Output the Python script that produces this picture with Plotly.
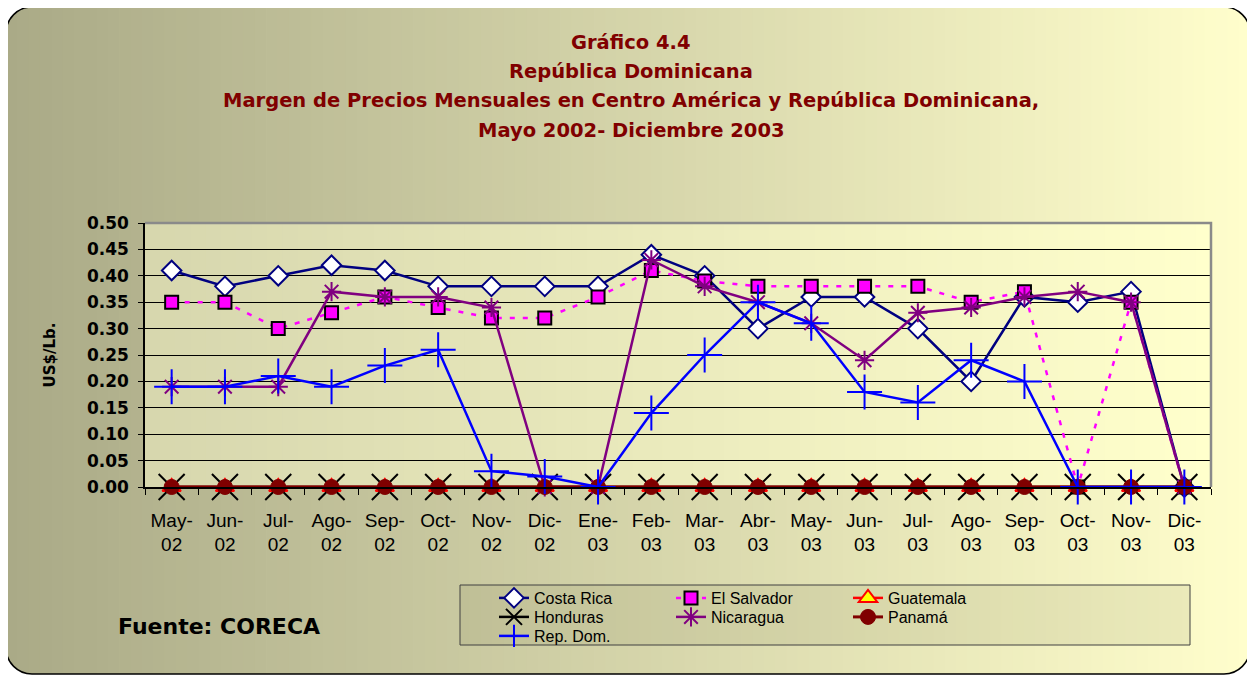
"""
Gráfico 4.4 - Margen de precios mensuales, Centro América y República Dominicana.
"""
import plotly.graph_objects as go

# --- data -------------------------------------------------------------
months = ["May-02", "Jun-02", "Jul-02", "Ago-02", "Sep-02", "Oct-02", "Nov-02",
          "Dic-02", "Ene-03", "Feb-03", "Mar-03", "Abr-03", "May-03", "Jun-03",
          "Jul-03", "Ago-03", "Sep-03", "Oct-03", "Nov-03", "Dic-03"]

costa_rica = [0.41, 0.38, 0.40, 0.42, 0.41, 0.38, 0.38, 0.38, 0.38, 0.44,
              0.40, 0.30, 0.36, 0.36, 0.30, 0.20, 0.36, 0.35, 0.37, 0.00]
el_salvador = [0.35, 0.35, 0.30, 0.33, 0.36, 0.34, 0.32, 0.32, 0.36, 0.41,
               0.39, 0.38, 0.38, 0.38, 0.38, 0.35, 0.37, 0.00, 0.35, 0.00]
guatemala = [0.00, 0.00, 0.00, 0.00, 0.00, 0.00, 0.00, 0.00, 0.00, 0.00,
             0.00, 0.00, 0.00, 0.00, 0.00, 0.00, 0.00, 0.00, 0.00, 0.00]
honduras = [0.00, 0.00, 0.00, 0.00, 0.00, 0.00, 0.00, 0.00, 0.00, 0.00,
            0.00, 0.00, 0.00, 0.00, 0.00, 0.00, 0.00, 0.00, 0.00, 0.00]
nicaragua = [0.19, 0.19, 0.19, 0.37, 0.36, 0.36, 0.34, 0.00, 0.00, 0.43,
             0.38, 0.35, 0.31, 0.24, 0.33, 0.34, 0.36, 0.37, 0.35, 0.00]
panama = [0.00, 0.00, 0.00, 0.00, 0.00, 0.00, 0.00, 0.00, 0.00, 0.00,
          0.00, 0.00, 0.00, 0.00, 0.00, 0.00, 0.00, 0.00, 0.00, 0.00]
rep_dom = [0.19, 0.19, 0.21, 0.19, 0.23, 0.26, 0.03, 0.02, 0.00, 0.14,
           0.25, 0.35, 0.31, 0.18, 0.16, 0.24, 0.20, 0.00, 0.00, 0.00]

tick_text = [m.replace("-", "-<br>") for m in months]

# --- page geometry ------------------------------------------------------
# positions below are page pixels; the page body adds an 8px offset
OFF = 8
W, H = 1255 - OFF, 677 - OFF
ML, MT = 145 - OFF, 223 - OFF
MR, MB = W - (1211 - OFF), H - (487 - OFF)
PW, PH = W - ML - MR, H - MT - MB


def px(x):
    return (x - OFF - ML) / PW


def py(y):
    return (H - MB - (y - OFF)) / PH


def mix(c0, c1, t):
    return "rgb(%d,%d,%d)" % tuple(round(a + (b - a) * t) for a, b in zip(c0, c1))


shapes = []

# paper gradient (olive on the left, pale yellow on the right)
bx0, bx1, by0, by1 = 6, 1250, 7, 674
n = 110
for i in range(n):
    xa = bx0 + (bx1 - bx0) * i / n
    xb = min(bx1, bx0 + (bx1 - bx0) * (i + 1) / n + 0.8)
    shapes.append(dict(type="rect", xref="paper", yref="paper", layer="below",
                       x0=px(xa), x1=px(xb), y0=py(by1), y1=py(by0),
                       fillcolor=mix((170, 170, 135), (255, 254, 204), i / (n - 1)),
                       line=dict(width=0)))

# white corner masks + rounded border
r, k = 26, 0.45
for cx, cy, sx, sy in [(bx0, by0, 1, 1), (bx1, by0, -1, 1),
                       (bx1, by1, -1, -1), (bx0, by1, 1, -1)]:
    path = "M %f,%f L %f,%f C %f,%f %f,%f %f,%f Z" % (
        px(cx), py(cy), px(cx + sx * r), py(cy),
        px(cx + sx * r * k), py(cy), px(cx), py(cy + sy * r * k),
        px(cx), py(cy + sy * r))
    shapes.append(dict(type="path", xref="paper", yref="paper", layer="below",
                       path=path, fillcolor="white", line=dict(width=0)))

border = ("M %f,%f L %f,%f C %f,%f %f,%f %f,%f L %f,%f C %f,%f %f,%f %f,%f "
          "L %f,%f C %f,%f %f,%f %f,%f L %f,%f C %f,%f %f,%f %f,%f Z") % (
    px(bx0 + r), py(by0), px(bx1 - r), py(by0),
    px(bx1 - r * k), py(by0), px(bx1), py(by0 + r * k), px(bx1), py(by0 + r),
    px(bx1), py(by1 - r),
    px(bx1), py(by1 - r * k), px(bx1 - r * k), py(by1), px(bx1 - r), py(by1),
    px(bx0 + r), py(by1),
    px(bx0 + r * k), py(by1), px(bx0), py(by1 - r * k), px(bx0), py(by1 - r),
    px(bx0), py(by0 + r),
    px(bx0), py(by0 + r * k), px(bx0 + r * k), py(by0), px(bx0 + r), py(by0))
shapes.append(dict(type="path", xref="paper", yref="paper", layer="below",
                   path=border, line=dict(color="black", width=1.5)))

# plot area gradient
m = 70
for i in range(m):
    shapes.append(dict(type="rect", xref="x domain", yref="y domain", layer="below",
                       x0=i / m, x1=min(1, (i + 1) / m + 0.001), y0=0, y1=1,
                       fillcolor=mix((215, 215, 174), (255, 255, 204), i / (m - 1)),
                       line=dict(width=0)))
# grey frame on top / right of plot area
shapes.append(dict(type="path", xref="paper", yref="paper", layer="above",
                   path="M 0,1 L 1,1 L 1,0", line=dict(color="#8a8a8a", width=2.5)))

# legend box
shapes.append(dict(type="rect", xref="paper", yref="paper", layer="below",
                   x0=px(460), x1=px(1190), y0=py(645), y1=py(585),
                   fillcolor="rgba(120,120,80,0.12)",
                   line=dict(color="#404040", width=1)))

# --- traces -----------------------------------------------------------
series = [
    ("Costa Rica", costa_rica, "legend", dict(color="#000080", width=2.5),
     dict(symbol="diamond", size=15, color="white", line=dict(color="#000080", width=2))),
    ("El Salvador", el_salvador, "legend", dict(color="#FF00FF", width=2.5, dash="5px,8px"),
     dict(symbol="square", size=13, color="#FF00FF", line=dict(color="black", width=2))),
    ("Guatemala", guatemala, "legend", dict(color="#FF0000", width=2.5),
     dict(symbol="triangle-up", size=16, color="#FFFF00", line=dict(color="#FF0000", width=2))),
    ("Honduras", honduras, "legend2", dict(color="black", width=2.5),
     dict(symbol="x-thin-open", size=26, color="black", line=dict(color="black", width=2))),
    ("Nicaragua", nicaragua, "legend2", dict(color="#800080", width=2.5),
     dict(symbol="asterisk-open", size=16, color="#800080", line=dict(color="#800080", width=2))),
    ("Panamá", panama, "legend2", dict(color="#800000", width=3),
     dict(symbol="circle", size=15, color="#800000", line=dict(color="#800000", width=1))),
    ("Rep. Dom.", rep_dom, "legend3", dict(color="#0000FF", width=2.5),
     dict(symbol="cross-thin-open", size=25, color="#0000FF", line=dict(color="#0000FF", width=2))),
]

fig = go.Figure()
for name, vals, leg, line, marker in series:
    fig.add_trace(go.Scatter(x=months, y=vals, name=name, mode="lines+markers",
                             legend=leg, line=line, marker=marker, cliponaxis=False))

# --- text -------------------------------------------------------------
title_font = dict(family="DejaVu Sans", size=19.5, color="#800000", weight="bold")
title_lines = [
    ("Gráfico 4.4", 42),
    ("República Dominicana", 71),
    ("Margen de Precios Mensuales en Centro América y República Dominicana,", 101),
    ("Mayo 2002- Diciembre 2003", 130),
]
annotations = [dict(text=t, xref="paper", yref="paper", x=px(631), y=py(yy),
                    xanchor="center", yanchor="middle", showarrow=False, font=title_font)
               for t, yy in title_lines]
annotations.append(dict(text="Fuente: CORECA", xref="paper", yref="paper",
                        x=px(116), y=py(626), xanchor="left", yanchor="middle",
                        showarrow=False,
                        font=dict(family="DejaVu Sans", size=22, color="black", weight="bold")))

legend_font = dict(family="Liberation Sans", size=16, color="black")


def legend_row(y_page):
    return dict(orientation="h", x=px(494), y=py(y_page), xanchor="left", yanchor="middle",
                bgcolor="rgba(0,0,0,0)", borderwidth=0,
                entrywidth=132, entrywidthmode="pixels", font=legend_font)


fig.update_layout(
    width=W, height=H,
    margin=dict(l=ML, r=MR, t=MT, b=MB, autoexpand=False),
    paper_bgcolor="white",
    plot_bgcolor="rgba(0,0,0,0)",
    shapes=shapes,
    annotations=annotations,
    showlegend=True,
    legend=legend_row(598),
    legend2=legend_row(617),
    legend3=legend_row(636),
    xaxis=dict(type="category", tickmode="array", tickvals=months, ticktext=tick_text,
               range=[-0.5, len(months) - 0.5],
               tickson="boundaries", ticks="outside", ticklen=6, tickcolor="black",
               showline=True, linecolor="black", linewidth=1.5, showgrid=False,
               tickangle=0, automargin=False, ticklabelstandoff=15,
               tickfont=dict(family="Liberation Sans", size=19, color="black")),
    yaxis=dict(range=[0, 0.5], dtick=0.05, tickformat=".2f",
               ticks="outside", ticklen=5, tickcolor="black",
               showline=True, linecolor="black", linewidth=1.5,
               showgrid=True, gridcolor="black", gridwidth=1, zeroline=False,
               automargin=False, ticklabelstandoff=6,
               tickfont=dict(family="DejaVu Sans", size=17, color="black", weight="bold"),
               title=dict(text="US$/Lb.", standoff=28,
                          font=dict(family="DejaVu Sans", size=15, color="black",
                                    weight="bold"))),
)

fig.write_html("out.html")
